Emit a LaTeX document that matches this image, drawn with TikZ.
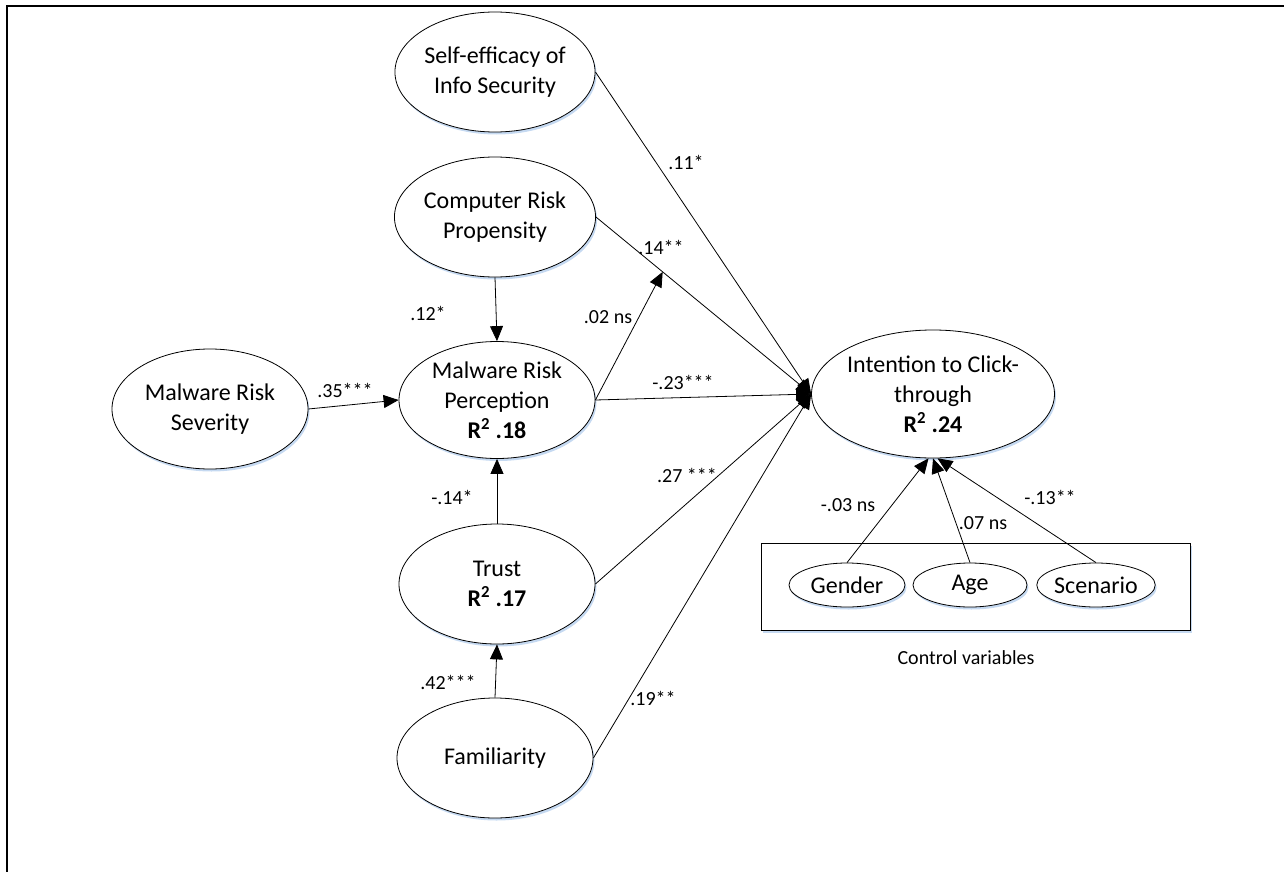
\documentclass[tikz,border=0pt]{standalone}
\usepackage{fontspec}
\setmainfont{Carlito}
\usetikzlibrary{shapes.geometric,arrows.meta,shadows}
\definecolor{shadowblue}{RGB}{197,217,241}
\begin{document}
\begin{tikzpicture}[x=1pt,y=-1pt,
  latent/.style={ellipse,draw,line width=0.8pt,fill=white,minimum width=196pt,minimum height=120pt,inner sep=0pt,align=center,font=\fontsize{24}{30}\selectfont,general shadow={fill=shadowblue,shadow xshift=1.5pt,shadow yshift=-2.5pt}},
  small/.style={ellipse,draw,line width=0.8pt,fill=white,minimum width=116pt,minimum height=44pt,inner sep=0pt,align=center,font=\fontsize{24}{30}\selectfont,general shadow={fill=shadowblue,shadow xshift=1.5pt,shadow yshift=-2.5pt}},
  arr/.style={line width=0.8pt,-{Triangle[length=15pt,width=13pt]}},
  lab/.style={font=\fontsize{20}{24}\selectfont,inner sep=0pt},
]
\useasboundingbox (0,0) rectangle (1284,872);
\draw[line width=2.3pt] (7,872) -- (7,6) -- (1284,6);

% control box
\node[draw,line width=0.8pt,fill=white,minimum width=429pt,minimum height=87pt,inner sep=0pt,general shadow={fill=shadowblue,shadow xshift=1.5pt,shadow yshift=-2.5pt}] (box) at (975.5,586.5) {};
\node[lab] (cv) at (966,658) {Control variables};

\node[latent] (se) at (495,72) {Self-efficacy of\\Info Security};
\node[latent] (crp) at (495,217) {Computer Risk\\Propensity};
\node[latent,minimum height=117pt] (mrp) at (497,400) {Malware Risk\\Perception\\\textbf{R\textsuperscript{2} .18}};
\node[latent] (mrs) at (210,409) {Malware Risk\\Severity};
\node[latent] (trust) at (497,584) {Trust\\\textbf{R\textsuperscript{2} .17}};
\node[latent] (fam) at (495,758) {Familiarity};
\node[latent,minimum width=231pt,minimum height=128pt] (int) at (933,394) {Intention to Click-\\through\\\textbf{R\textsuperscript{2} .24}};

\node[small] (gen) at (847,585) {Gender};
\node[small,minimum width=114pt] (age) at (970,585) {Age};
\node[small] (scen) at (1096,585) {Scenario};

% paths
\draw[arr] (se.east) -- (int.west);
\draw[arr] (crp.east) -- coordinate[pos=0.31] (mod) (int.west);
\draw[arr] (mrp.east) -- (int.west);
\draw[arr] (trust.east) -- (int.west);
\draw[arr] (fam.east) -- (int.west);
\draw[arr] (mrp.east) -- (mod);
\draw[arr] (crp.south) -- (mrp.north);
\draw[arr] (mrs.east) -- (mrp.west);
\draw[arr] (trust.north) -- (mrp.south);
\draw[arr] (fam.north) -- (trust.south);
\draw[arr] (gen.north) -- (int.266);
\draw[arr] (age.north) -- (int.270);
\draw[arr] (scen.north) -- (int.274);

% labels
\node[lab] (l1) at (686,162) {.11*};
\node[lab] (l2) at (661,247) {.14**};
\node[lab] (l3) at (608,317) {.02 ns};
\node[lab] (l4) at (683,382) {-.23***};
\node[lab] (l5) at (687,475) {.27 ***};
\node[lab] (l6) at (653,698) {.19**};
\node[lab] (l7) at (448,682) {.42***};
\node[lab] (l8) at (452,497) {-.14*};
\node[lab] (l9) at (428,313) {.12*};
\node[lab] (l10) at (345,390) {.35***};
\node[lab] (l11) at (848,505) {-.03 ns};
\node[lab] (l12) at (983,523) {.07 ns};
\node[lab] (l13) at (1050,497) {-.13**};
\end{tikzpicture}
\end{document}
